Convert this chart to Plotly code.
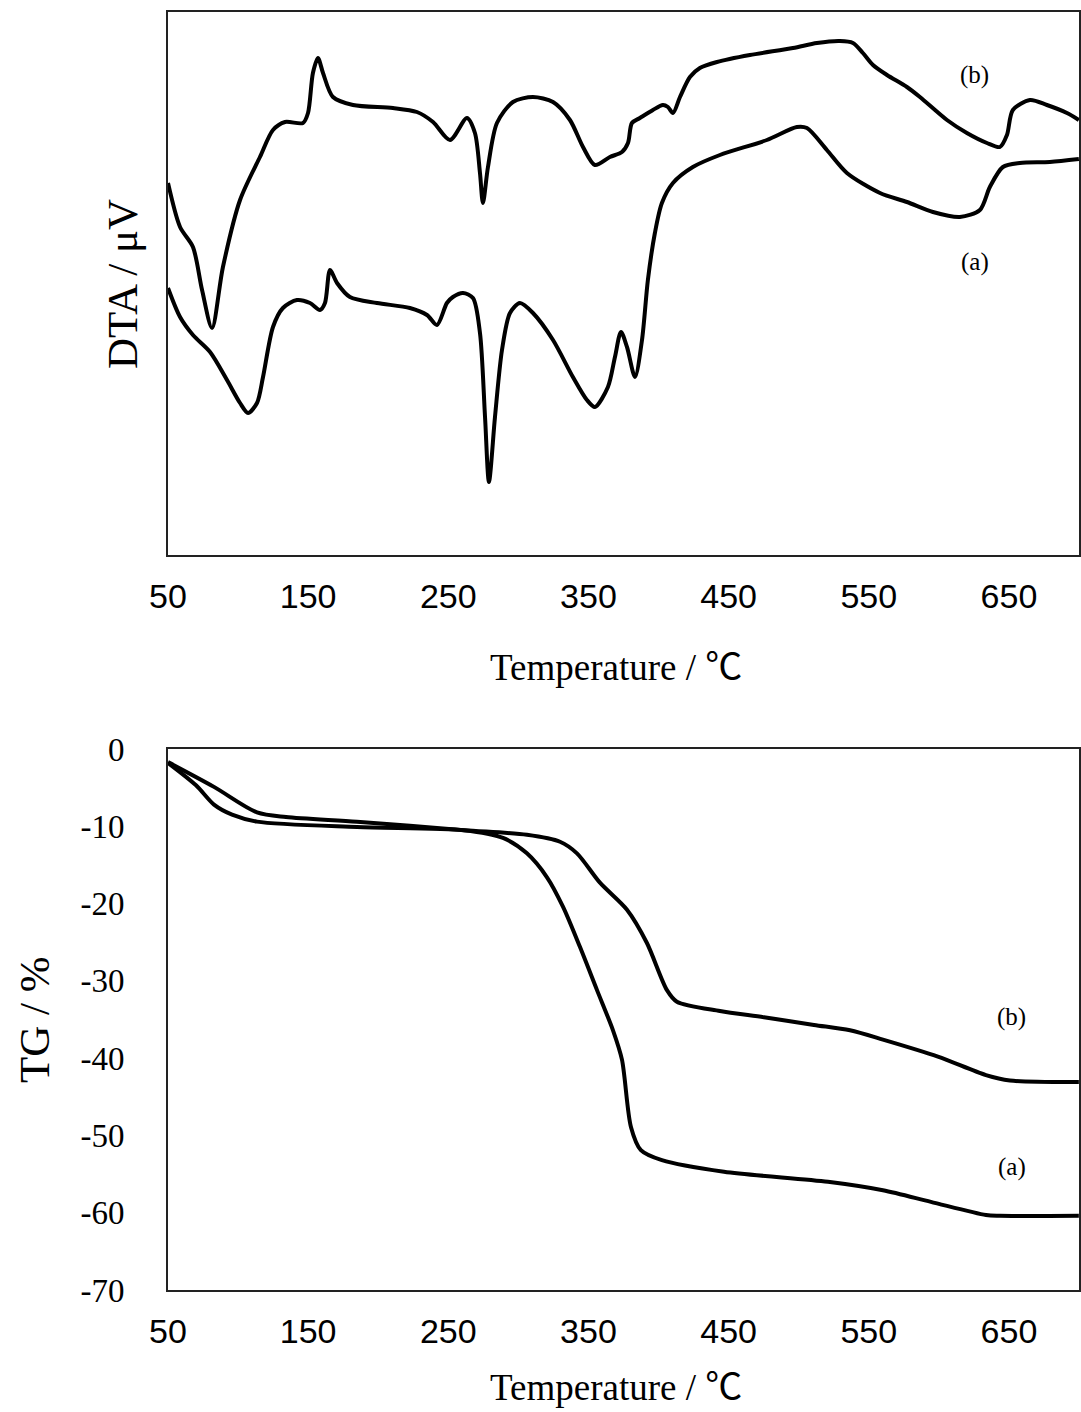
import plotly.graph_objects as go

# ---------------- DTA data (arbitrary units) ----------------
dta_b_temp = [50.0, 58.6, 67.8, 74.3, 81.4, 89.2, 101.4, 115.6, 124.9, 133.5, 146.3, 149.9, 153.4, 157.0,
              160.6, 167.7, 182.0, 210.5, 227.6, 239.1, 251.2, 263.3, 269.0, 272.6, 274.7, 278.3, 284.7,
              296.1, 310.4, 324.7, 336.8, 346.1, 354.6, 365.3, 373.9, 378.2, 381.0, 386.7, 396.0, 403.1,
              406.7, 410.3, 415.3, 422.4, 429.5, 441.7, 465.2, 495.9, 513.0, 529.4, 538.7, 545.8, 553.0,
              563.0, 577.2, 586.5, 605.8, 620.0, 634.3, 643.6, 648.6, 652.8, 665.0, 677.1, 691.4, 699.9]
dta_b_val = [37.2, 32.8, 30.8, 26.5, 22.7, 28.8, 35.5, 39.8, 42.5, 43.3, 43.2, 44.2, 48.2, 49.7,
             48.2, 45.8, 45.0, 44.7, 44.3, 43.3, 41.5, 43.7, 42.2, 38.2, 35.2, 38.8, 43.2,
             45.3, 45.8, 45.3, 43.5, 40.8, 39.0, 39.8, 40.3, 41.2, 43.2, 43.7, 44.5, 45.0,
             44.8, 44.2, 45.8, 47.8, 48.7, 49.3, 50.0, 50.7, 51.2, 51.4, 51.2, 50.2, 49.0,
             48.0, 46.8, 45.8, 43.5, 42.2, 41.2, 40.8, 42.0, 44.5, 45.5, 45.0, 44.2, 43.5]

dta_a_temp = [50.0, 58.6, 67.8, 80.0, 92.1, 101.4, 107.1, 113.5, 117.8, 124.9, 132.0, 142.0, 151.3, 158.4,
              162.0, 165.6, 170.6, 179.8, 199.1, 222.6, 234.8, 241.9, 249.0, 253.3, 260.5, 267.6, 272.6,
              276.2, 279.0, 283.3, 288.3, 294.0, 301.1, 310.4, 324.7, 338.9, 348.9, 354.6, 363.9, 368.9,
              373.2, 377.5, 383.2, 388.2, 392.4, 397.4, 402.4, 410.3, 424.5, 443.8, 477.3, 498.7, 505.9,
              520.1, 534.4, 558.0, 577.2, 595.8, 615.0, 629.3, 636.4, 645.7, 657.8, 679.2, 699.9]
dta_a_val = [26.7, 23.8, 22.0, 20.3, 17.5, 15.2, 14.2, 15.2, 17.8, 22.8, 24.7, 25.5, 25.2, 24.5,
             25.2, 28.5, 27.2, 25.8, 25.2, 24.7, 24.0, 23.0, 25.2, 25.8, 26.2, 25.7, 22.2,
             13.8, 7.3, 13.8, 20.5, 24.2, 25.2, 24.2, 21.5, 17.8, 15.5, 14.8, 16.8, 19.8,
             22.3, 20.8, 17.8, 21.5, 27.5, 32.2, 35.2, 37.2, 38.8, 40.0, 41.5, 42.8, 42.7,
             40.5, 38.2, 36.2, 35.3, 34.3, 33.8, 34.5, 36.8, 38.8, 39.2, 39.3, 39.6]

# ---------------- TG data (%) ----------------
tg_a_temp = [50.0, 70.0, 82.8, 95.7, 113.5, 184.8, 261.2, 289.0, 306.1, 320.4, 331.8, 343.9, 356.1,
             367.5, 373.9, 380.3, 387.4, 402.4, 446.7, 520.9, 560.1, 594.3, 633.6, 643.6, 699.9]
tg_a_val = [-1.8, -4.7, -7.2, -8.5, -9.4, -10.1, -10.5, -11.5, -13.5, -16.6, -20.4, -25.6, -31.2,
            -36.4, -40.2, -48.9, -51.9, -53.2, -54.7, -56.0, -57.1, -58.6, -60.3, -60.4, -60.4]

tg_b_temp = [50.0, 82.8, 113.5, 134.2, 184.8, 261.2, 306.1, 329.7, 341.8, 358.2, 377.5, 391.7, 406.0,
             413.1, 443.8, 475.2, 510.9, 536.6, 560.1, 599.3, 633.6, 650.7, 699.9]
tg_b_val = [-1.7, -4.9, -8.2, -8.8, -9.4, -10.5, -11.1, -12.0, -13.5, -17.3, -20.8, -25.1, -31.2,
            -32.7, -33.9, -34.7, -35.7, -36.4, -37.6, -39.8, -42.2, -42.9, -43.1]

x_ticks = [50, 150, 250, 350, 450, 550, 650]
tg_ticks = [0, -10, -20, -30, -40, -50, -60, -70]
tg_tick_labels = ["0", "-10", "-20", "-30", "-40", "-50", "-60", "-70"]

x_title = "Temperature / ℃"
dta_title = "DTA / μV"
tg_title = "TG / %"

SERIF = "Liberation Serif, Times New Roman, Noto Sans CJK JP, serif"
NARROW = "Liberation Sans Narrow, Arial Narrow, Liberation Sans, sans-serif"
LINE = dict(color="black", width=4, shape="spline", smoothing=0.8)

fig = go.Figure()
fig.add_trace(go.Scatter(x=dta_b_temp, y=dta_b_val, mode="lines", line=LINE,
                         xaxis="x", yaxis="y", name="DTA (b)"))
fig.add_trace(go.Scatter(x=dta_a_temp, y=dta_a_val, mode="lines", line=LINE,
                         xaxis="x", yaxis="y", name="DTA (a)"))
fig.add_trace(go.Scatter(x=tg_b_temp, y=tg_b_val, mode="lines", line=LINE,
                         xaxis="x2", yaxis="y2", name="TG (b)"))
fig.add_trace(go.Scatter(x=tg_a_temp, y=tg_a_val, mode="lines", line=LINE,
                         xaxis="x2", yaxis="y2", name="TG (a)"))

xaxis_common = dict(range=[50, 700], tickmode="array", tickvals=x_ticks,
                    ticks="", showgrid=False, zeroline=False, automargin=False,
                    showline=True, mirror=True, linecolor="#222", linewidth=2,
                    tickfont=dict(family=NARROW, size=34, color="black"),
                    ticklabelstandoff=10)

fig.update_layout(
    width=1081, height=1412, autosize=False,
    margin=dict(l=0, r=0, t=0, b=0, pad=0),
    paper_bgcolor="white", plot_bgcolor="white",
    showlegend=False,
    xaxis=dict(domain=[168/1081, 1079/1081], anchor="y", **xaxis_common),
    yaxis=dict(domain=[1-555/1412, 1-12/1412], anchor="x", range=[0, 54.3],
               showticklabels=False, ticks="", showgrid=False, zeroline=False, automargin=False,
               showline=True, mirror=True, linecolor="#222", linewidth=2),
    xaxis2=dict(domain=[168/1081, 1079/1081], anchor="y2", **xaxis_common),
    yaxis2=dict(domain=[1-1290/1412, 1-749/1412], anchor="x2", range=[-70, 0],
                tickmode="array", tickvals=tg_ticks, ticktext=tg_tick_labels,
                ticks="", showgrid=False, zeroline=False, automargin=False,
                showline=True, mirror=True, linecolor="#222", linewidth=2,
                tickfont=dict(family=SERIF, size=33, color="black"),
                ticklabelstandoff=35),
)

def paper_text(text, px, py, size, angle=0):
    return dict(text=text, x=px/1081, y=1-py/1412, xref="paper", yref="paper",
                xanchor="center", yanchor="middle", showarrow=False, textangle=angle,
                font=dict(family=SERIF, size=size, color="black"))

def data_text(text, x, y, xref, yref):
    return dict(text=text, x=x, y=y, xref=xref, yref=yref, xanchor="center", yanchor="middle",
                showarrow=False, font=dict(family=SERIF, size=25, color="black"))

annots = [
    paper_text(x_title, 616, 667, 37),
    paper_text(x_title, 616, 1387, 37),
    paper_text(dta_title, 122, 284, 43, -90),
    paper_text(tg_title, 34, 1020, 43, -90),
    data_text("(b)", 625.7, 48.0, "x", "y"),
    data_text("(a)", 625.7, 29.3, "x", "y"),
    data_text("(b)", 652.1, -34.7, "x2", "y2"),
    data_text("(a)", 652.1, -54.1, "x2", "y2"),
]
fig.update_layout(annotations=annots)

fig.write_html("out.html")
